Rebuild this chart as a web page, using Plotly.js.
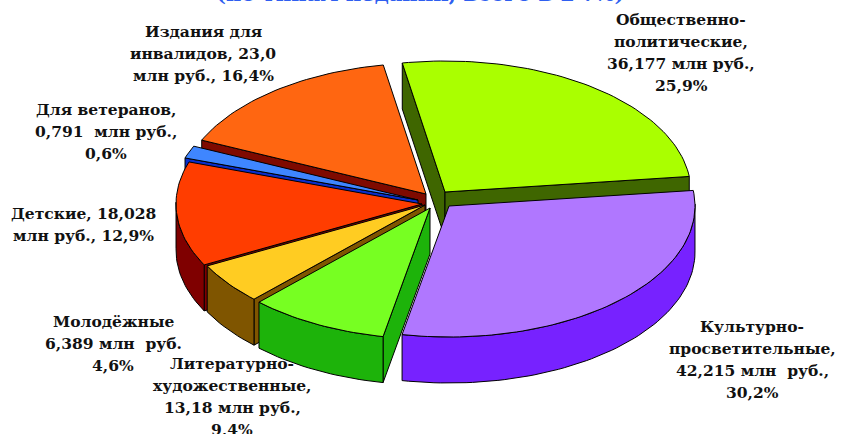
<!DOCTYPE html>
<html><head><meta charset="utf-8">
<script src="https://cdn.plot.ly/plotly-3.0.1.min.js"></script>
<style>html,body{margin:0;padding:0;background:#fff}#c{width:841px;height:434px}</style>
</head><body><div id="c"></div>
<script>
// Data
const categories = ["Общественно-политические","Культурно-просветительные","Литературно-художественные","Молодёжные","Детские","Для ветеранов","Издания для инвалидов"];
const values = [36.177, 42.215, 13.18, 6.389, 18.028, 0.791, 23.0];
const labelLines = [
  ["Общественно-","политические,","36,177 млн руб.,","25,9%"],
  ["Культурно-","просветительные,","42,215 млн  руб.,","30,2%"],
  ["Литературно-","художественные,","13,18 млн руб.,","9,4%"],
  ["Молодёжные","6,389 млн  руб.","4,6%"],
  ["Детские, 18,028","млн руб., 12,9%"],
  ["Для ветеранов,","0,791  млн руб.,","0,6%"],
  ["Издания для","инвалидов, 23,0","млн руб., 16,4%"]
];
const topColors  = ["#AAFF00","#B077FF","#77FF22","#FFCC22","#FF3D00","#3F86FF","#FF6611"];
const wallColors = ["#3F6600","#7722FF","#1DB30A","#7F5500","#7F0000","#0A2ECC","#7F0A00"];
// Presentation geometry (pixel-like axes)
const apexX = [445,449,430,425,422,418,426];
const apexY = [192,206,208,205,204,200,194];
const labelX = [681,752,232,113,83,106,203];
const labelY = [19,326,363,321,213,109,31];
// Small shifts (degrees) of each slice boundary, mimicking the 3-D perspective of the original
const boundaryShift = [0,0,0.9,1.8,0,0,-3.5,0];
const lineGap = 22, rx = 246, ry = 131, depth = 46, startDeg = 100;
const titleText = "(по типам изданий, всего в 2 ?%)";

const total = values.reduce((a,b)=>a+b,0);
const rad = d=>d*Math.PI/180;
const traces = [];
function poly(xs,ys,fill){
  traces.push({type:"scatter",mode:"lines",x:xs,y:ys,fill:"toself",fillcolor:fill,
    line:{color:"#000",width:1},hoverinfo:"skip",showlegend:false});
}
let a = startDeg;
const bounds=[a];
values.forEach(v=>{a-=v/total*360;bounds.push(a);});
const shifted=bounds.map((b,k)=>b+boundaryShift[k]);
const spans=values.map((v,i)=>[shifted[i],shifted[i+1]]);
// Paint back to front: the first slice, then the left side going round, then the big front slice
const order = [0,6,5,4,3,2,1];
order.forEach(i=>{
  const [a0,a1]=spans[i], cx=apexX[i], cy=apexY[i];
  const arcX=[],arcY=[],n=Math.max(4,Math.ceil((a0-a1)/1.5));
  for(let k=0;k<=n;k++){const t=rad(a0+(a1-a0)*k/n);arcX.push(cx+rx*Math.cos(t));arcY.push(cy-ry*Math.sin(t));}
  const wall=wallColors[i];
  // radial walls: only those facing the viewer
  if(Math.cos(rad(a0))<0) poly([cx,arcX[0],arcX[0],cx,cx],[cy,arcY[0],arcY[0]+depth,cy+depth,cy],wall);
  if(Math.cos(rad(a1))>0) poly([cx,arcX[n],arcX[n],cx,cx],[cy,arcY[n],arcY[n]+depth,cy+depth,cy],wall);
  // outer wall: only the part facing the viewer
  const wx=[],wy=[];
  for(let k=0;k<=n;k++){const t=rad(a0+(a1-a0)*k/n);if(Math.sin(t)<=0.03){wx.push(arcX[k]);wy.push(arcY[k]);}}
  if(wx.length>1){
    poly(wx.concat(wx.slice().reverse(),[wx[0]]),wy.concat(wy.slice().reverse().map(y=>y+depth),[wy[0]]),wall);
  }
  poly([cx].concat(arcX,[cx]),[cy].concat(arcY,[cy]),topColors[i]);
});
const annotations=[];
labelLines.forEach((lines,i)=>lines.forEach((t,j)=>annotations.push({
  text:"<b>"+t+"</b>",x:labelX[i],y:labelY[i]+j*lineGap,xref:"x",yref:"y",showarrow:false,
  xanchor:"center",yanchor:"middle",font:{family:"DejaVu Serif",size:15.5,color:"#111"},
})));
annotations.push({text:"<b>"+titleText+"</b>",x:420/841,y:1.0,xref:"paper",yref:"paper",xanchor:"center",yanchor:"middle",
  yshift:7,showarrow:false,font:{family:"DejaVu Serif",size:21,color:"#2F5FF0"}});
Plotly.newPlot("c",traces,{
  width:841,height:434,margin:{l:0,r:0,t:0,b:0},paper_bgcolor:"#fff",plot_bgcolor:"#fff",showlegend:false,
  xaxis:{range:[0,841],visible:false,fixedrange:true},
  yaxis:{range:[434,0],visible:false,fixedrange:true},
  annotations
},{displayModeBar:false,staticPlot:true});
</script></body></html>
